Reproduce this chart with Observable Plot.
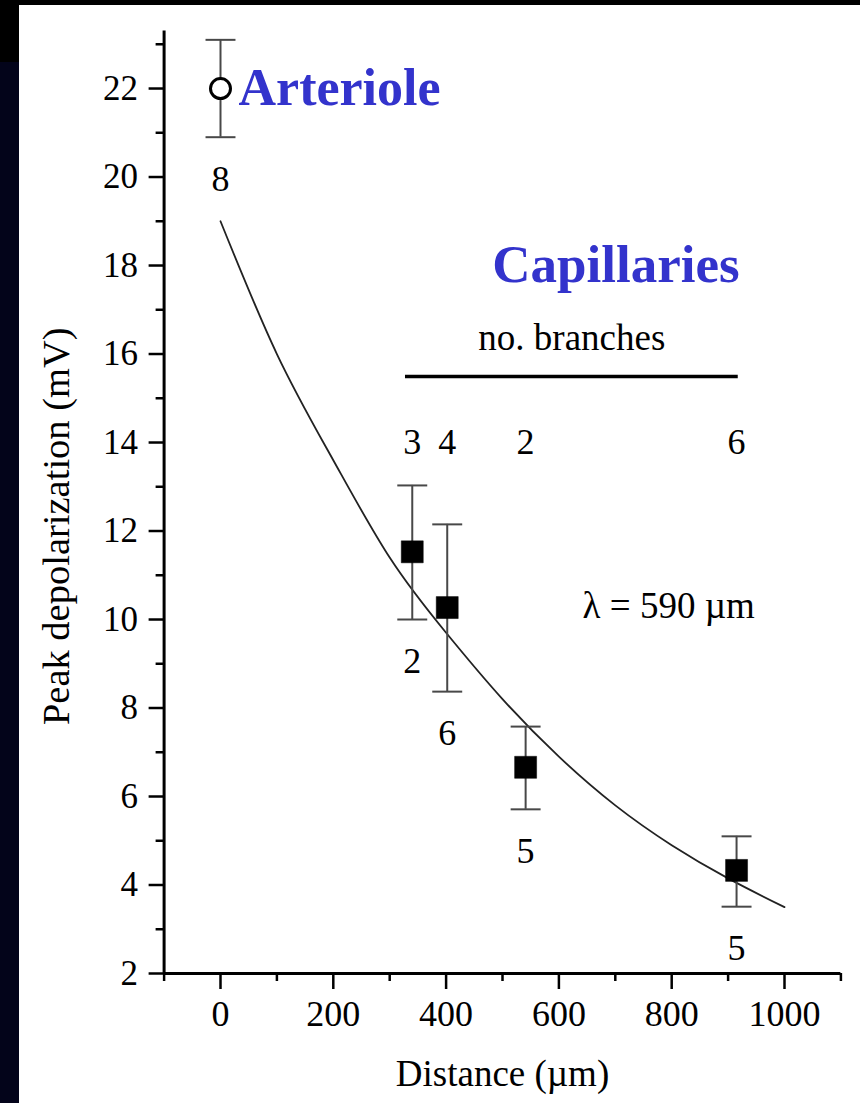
<!DOCTYPE html>
<html><head><meta charset="utf-8">
<script src="https://cdn.jsdelivr.net/npm/d3@7"></script>
<script src="https://cdn.jsdelivr.net/npm/@observablehq/plot@0.6"></script>
<style>
html,body{margin:0;padding:0;}
body{width:860px;height:1103px;background:#03041a;position:relative;overflow:hidden;}
#topbar{position:absolute;left:0;top:0;width:860px;height:5px;background:#000;}
#leftbar{position:absolute;left:0;top:0;width:19px;height:62px;background:#000;}
#chart{position:absolute;left:19px;top:5px;width:841px;height:1098px;background:#fff;}
#chart svg{display:block;}
#chart svg, #chart svg text{font-family:"Liberation Serif","Tinos","Nimbus Roman","FreeSerif","DejaVu Serif",serif !important;}
</style></head><body>
<div id="topbar"></div><div id="leftbar"></div><div id="chart"></div>
<script>
// ---- data ----
const arterioleX = [0];
const arterioleY = [22];
const arterioleLo = [20.9];
const arterioleHi = [23.1];
const arterioleN = ["8"];

const capX = [340, 402, 541, 915];
const capY = [11.53, 10.27, 6.66, 4.33];
const capLo = [10.0, 8.37, 5.71, 3.51];
const capHi = [13.03, 12.15, 7.58, 5.10];
const capN = ["2", "6", "5", "5"];
const capBranches = ["3", "4", "2", "6"];

// fitted curve (λ = 590 µm)
const fitX = [0, 100, 200, 300, 400, 500, 600, 700, 800, 900, 1000];
const fitY = [19.0, 16.0, 13.6, 11.4, 9.7, 8.2, 6.9, 5.8, 4.9, 4.15, 3.5];

const xMajorTicks = [0, 200, 400, 600, 800, 1000];
const xMinorTicks = [-100, 100, 300, 500, 700, 900, 1100];
const yMajorTicks = [2, 4, 6, 8, 10, 12, 14, 16, 18, 20, 22];
const yMinorTicks = [3, 5, 7, 9, 11, 13, 15, 17, 19, 21, 23];

const xLabel = "Distance (µm)";
const yLabel = "Peak depolarization (mV)";
const arterioleLabel = "Arteriole";
const capLabel = "Capillaries";
const branchesLabel = "no. branches";
const lambdaLabel = "λ = 590 µm";

// ---- build tables ----
const arteriole = arterioleX.map((x, i) => ({x, y: arterioleY[i], lo: arterioleLo[i], hi: arterioleHi[i], n: arterioleN[i]}));
const caps = capX.map((x, i) => ({x, y: capY[i], lo: capLo[i], hi: capHi[i], n: capN[i], b: capBranches[i]}));
const all = arteriole.concat(caps);
const fit = fitX.map((x, i) => ({x, y: fitY[i]}));

const capSymbol = {draw(ctx, size) { const w = Math.sqrt(size); ctx.moveTo(-w / 2, 0); ctx.lineTo(w / 2, 0); }};
const font = "Liberation Serif";
const blue = "#3333cc";
const errColor = "#484848";
const fmt = d => String(d);

const chart = Plot.plot({
  width: 841, height: 1098,
  marginLeft: 144.6, marginRight: 19.6, marginTop: 25.5, marginBottom: 130,
  x: {domain: [-100, 1100]},
  y: {domain: [2, 23.3]},
  style: {fontFamily: font, background: "white", color: "black", overflow: "visible"},
  marks: [
    Plot.axisY({ticks: yMajorTicks, tickSize: 15, tickPadding: 11, tickFormat: fmt, fontSize: 35, fontWeight: "normal", label: null, strokeWidth: 2.5}),
    Plot.axisY({ticks: yMinorTicks, tickSize: 8, tickFormat: () => "", label: null, strokeWidth: 2.5}),
    Plot.axisX({ticks: xMajorTicks, tickSize: 16, tickPadding: 11, tickFormat: fmt, fontSize: 36, fontWeight: "normal", label: null, strokeWidth: 2.5}),
    Plot.axisX({ticks: xMinorTicks, tickSize: 8, tickFormat: () => "", label: null, strokeWidth: 2.5}),
    Plot.ruleX([xMinorTicks[0]], {strokeWidth: 3}),
    Plot.ruleY([yMajorTicks[0]], {strokeWidth: 3}),
    Plot.text([xLabel], {frameAnchor: "bottom", dy: 112, lineAnchor: "bottom", fontSize: 37, fontWeight: "normal"}),
    Plot.text([yLabel], {frameAnchor: "left", textAnchor: "middle", rotate: -90, dx: -95.6, dy: 24, lineAnchor: "bottom", fontSize: 38.5, fontWeight: "normal"}),
    // fitted curve
    Plot.line(fit, {x: "x", y: "y", curve: "natural", stroke: "#222", strokeWidth: 1.8}),
    // error bars
    Plot.ruleX(all, {x: "x", y1: "lo", y2: "hi", stroke: errColor, strokeWidth: 2}),
    Plot.dot(all, {x: "x", y: "hi", symbol: capSymbol, r: 16.9, stroke: errColor, strokeWidth: 2}),
    Plot.dot(all, {x: "x", y: "lo", symbol: capSymbol, r: 16.9, stroke: errColor, strokeWidth: 2}),
    // points
    Plot.dot(arteriole, {x: "x", y: "y", r: 10, stroke: "black", fill: "white", strokeWidth: 3}),
    Plot.dot(caps, {x: "x", y: "y", symbol: "square", r: 12.4, fill: "black", stroke: "black", strokeWidth: 0.5}),
    // n labels below error bars
    Plot.text(all, {x: "x", y: "lo", text: "n", dy: 42, fontSize: 36, fontWeight: "normal"}),
    // branch numbers
    Plot.text(caps, {x: "x", y: () => 14, text: "b", fontSize: 36, fontWeight: "normal"}),
    Plot.ruleY([15.49], {x1: 328, x2: 918, strokeWidth: 3.5}),
    Plot.text([branchesLabel], {x: () => 623, y: () => 16.35, fontSize: 37, fontWeight: "normal"}),
    Plot.text([lambdaLabel], {x: () => 642, y: () => 10.3, textAnchor: "start", fontSize: 37, fontWeight: "normal"}),
    // blue annotations
    Plot.text(arteriole, {x: "x", y: "y", text: () => arterioleLabel, textAnchor: "start", dx: 18, fontSize: 52, fontWeight: "bold", fill: blue}),
    Plot.text(caps.slice(-1), {x: "x", y: () => 18, text: () => capLabel, textAnchor: "end", dx: 3, fontSize: 53, fontWeight: "bold", fill: blue})
  ]
});
document.getElementById("chart").appendChild(chart);
</script>
</body></html>
